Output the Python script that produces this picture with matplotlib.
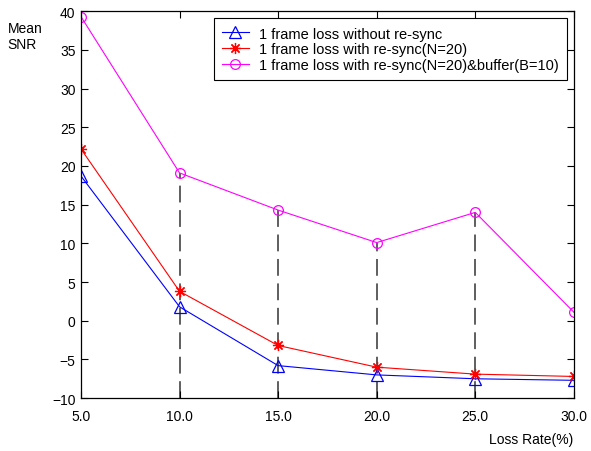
import numpy as np
import matplotlib.pyplot as plt
import matplotlib as mpl

mpl.rcParams["font.family"] = ["Liberation Sans", "DejaVu Sans"]
mpl.rcParams["font.size"] = 10

# Loss rate (%) and mean SNR for each scheme
loss_rate = [5, 10, 15, 20, 25, 30]
no_resync = [18.7, 1.8, -5.8, -7.0, -7.5, -7.7]
resync = [22.2, 3.8, -3.2, -6.0, -6.9, -7.2]
resync_buffer = [39.3, 19.1, 14.3, 10.1, 14.0, 1.1]
xtick_labels = ["5.0", "10.0", "15.0", "20.0", "25.0", "30.0"]

fig = plt.figure(figsize=(5.91, 4.52), dpi=100)
ax = fig.add_axes([0.137, 0.117, 0.834, 0.856])

# dashed guide lines from the bottom up to the buffered curve
for x, y in zip(loss_rate[1:-1], resync_buffer[1:-1]):
    ax.plot([x, x], [-10, y], color="#333333", linestyle=(0, (11, 5)), linewidth=1.1, zorder=1)

ax.plot(loss_rate, no_resync, color="blue", linewidth=0.8, marker="^", markersize=8,
        markerfacecolor="none", markeredgewidth=0.9, label="1 frame loss without re-sync")
ax.plot(loss_rate, resync, color="red", linewidth=0.8, marker=(8, 2, 0), markersize=8,
        markeredgewidth=0.9, label="1 frame loss with re-sync(N=20)")
ax.plot(loss_rate, resync_buffer, color="magenta", linewidth=0.8, marker="o", markersize=7,
        markerfacecolor="none", markeredgewidth=0.9, label="1 frame loss with re-sync(N=20)&buffer(B=10)")

ax.set_xlim(5, 30)
ax.set_ylim(-10, 40)
ax.set_xticks(loss_rate)
ax.set_xticklabels(xtick_labels)
ax.set_yticks(np.arange(-10, 41, 5))
ax.tick_params(direction="in", length=5, top=True, right=True, width=0.8)
ax.tick_params(axis="x", pad=8)
ax.tick_params(axis="y", pad=4)
for s in ax.spines.values():
    s.set_linewidth(0.9)

fig.text(0.013, 0.952, "Mean\nSNR", ha="left", va="top", fontsize=10, linespacing=1.2)
fig.text(0.970, 0.012, "Loss Rate(%)", ha="right", va="bottom", fontsize=10)

leg = ax.legend(loc="upper right", fancybox=False, edgecolor="black", framealpha=1,
                fontsize=10.5, handlelength=1.8, borderpad=0.55, labelspacing=0.12,
                handletextpad=0.7, borderaxespad=0.5)
leg.get_frame().set_linewidth(0.8)

fig.savefig("out.png", dpi=100)
